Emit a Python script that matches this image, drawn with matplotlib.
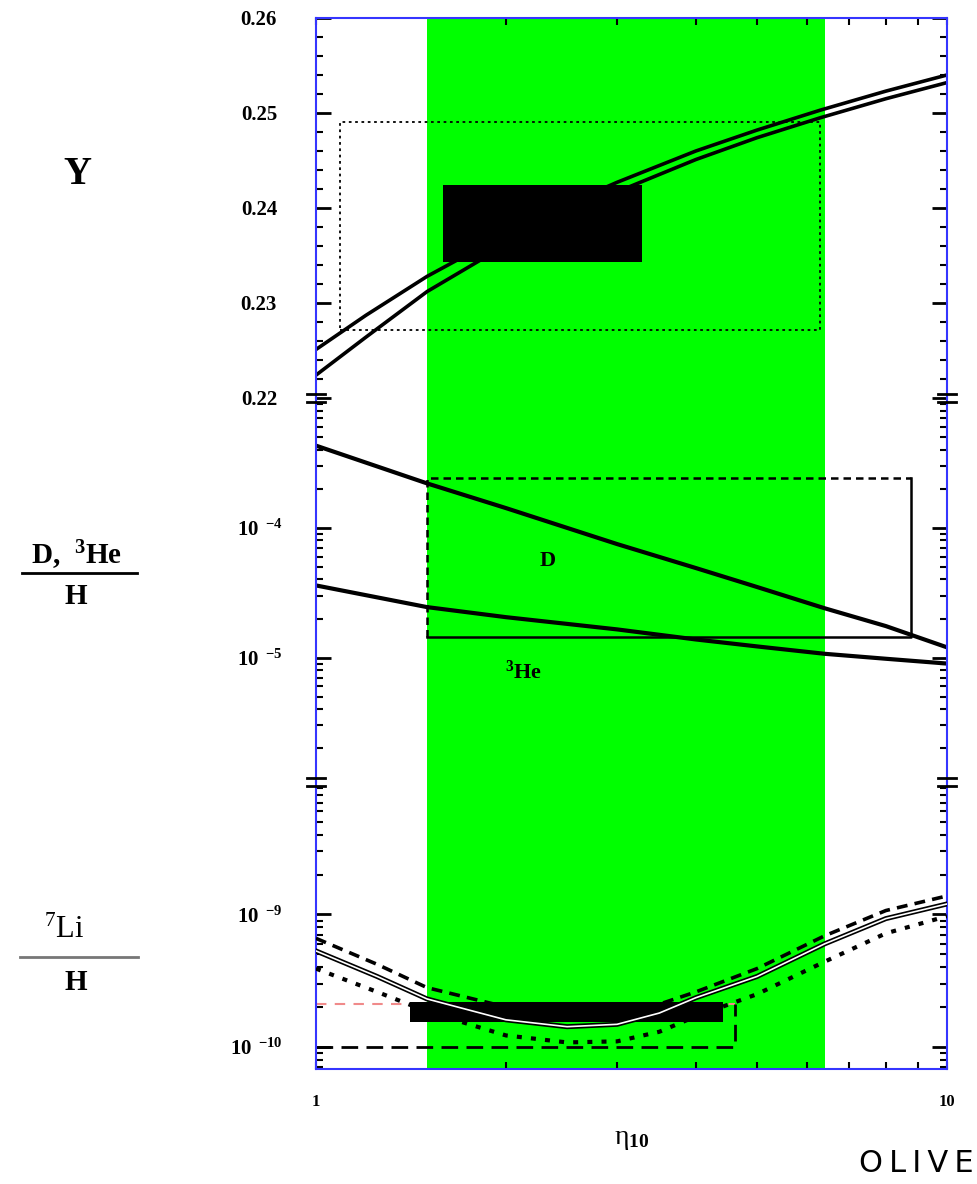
import matplotlib
matplotlib.use('Agg')
import matplotlib.pyplot as plt
from matplotlib.ticker import MultipleLocator, LogLocator, NullFormatter, FixedLocator
from matplotlib.lines import Line2D

plt.rcParams['font.family'] = ['Liberation Serif', 'DejaVu Serif']
plt.rcParams['mathtext.fontset'] = 'custom'
plt.rcParams['mathtext.rm'] = 'Liberation Serif'
plt.rcParams['mathtext.bf'] = 'Liberation Serif:bold'
plt.rcParams['mathtext.it'] = 'Liberation Serif:italic'

# allowed eta range (green band)
band = [1.5, 6.4]

# helium mass fraction Y
eta_y = [1, 1.2, 1.5, 2, 2.5, 3, 4, 5, 6.3, 8, 10]
Y_hi = [0.2251, 0.2287, 0.2328, 0.2373, 0.2404, 0.2427, 0.2460, 0.2482, 0.2503, 0.2523, 0.2540]
Y_lo = [0.2224, 0.2264, 0.2312, 0.2361, 0.2393, 0.2417, 0.2451, 0.2474, 0.2495, 0.2515, 0.2532]
y_box = [1.09, 6.3, 0.2272, 0.2490]      # x0, x1, y0, y1 (dotted)
y_fill = [1.59, 3.29, 0.2343, 0.2424]    # black block

# D/H and 3He/H
eta_d = [1, 1.5, 2, 3, 4, 5, 6.4, 8, 10]
D_H = [4.3e-4, 2.2e-4, 1.42e-4, 7.5e-5, 4.9e-5, 3.5e-5, 2.4e-5, 1.75e-5, 1.2e-5]
He3_H = [3.6e-5, 2.45e-5, 2.05e-5, 1.65e-5, 1.38e-5, 1.22e-5, 1.07e-5, 9.8e-6, 9.0e-6]
d_box = [1.5, 8.77, 1.43e-5, 2.4e-4]

# 7Li/H
eta_li = [1, 1.25, 1.5, 2, 2.5, 3, 3.5, 4, 5, 6.4, 8, 10]
Li_mid = [5.3e-10, 3.4e-10, 2.3e-10, 1.6e-10, 1.42e-10, 1.48e-10, 1.8e-10, 2.35e-10, 3.4e-10, 6.0e-10, 9.3e-10, 1.2e-9]
Li_hi = [6.6e-10, 4.2e-10, 2.8e-10, 2.0e-10, 1.8e-10, 1.85e-10, 2.1e-10, 2.6e-10, 3.9e-10, 6.9e-10, 1.07e-9, 1.38e-9]
Li_lo = [3.9e-10, 2.6e-10, 1.85e-10, 1.22e-10, 1.08e-10, 1.1e-10, 1.3e-10, 1.7e-10, 2.5e-10, 4.4e-10, 7.2e-10, 9.7e-10]
li_box = [1.0, 4.61, 1.0e-10, 2.09e-10]
li_fill = [1.41, 4.42, 1.55e-10, 2.17e-10]

spine_col = '#3535ff'
lab_font = dict(fontsize=15, fontweight='bold')

fig = plt.figure(figsize=(9.77, 11.84), dpi=100)
L, W = 0.3234, 0.6459
axY = fig.add_axes([L, 0.6639, W, 0.3209])
axD = fig.add_axes([L, 0.3395, W, 0.3243])
axL = fig.add_axes([L, 0.0971, W, 0.2424])

for ax in (axY, axD, axL):
    ax.set_xscale('log')
    ax.set_xlim(1, 10)
    ax.axvspan(band[0], band[1], color='#00ff00', lw=0, zorder=0)
    ax.set_facecolor('none')
    for s in ax.spines.values():
        s.set_color(spine_col)
        s.set_linewidth(1.5)
    ax.tick_params(axis='both', which='both', direction='in', colors='black',
                   left=True, right=True, top=False, bottom=False, labelbottom=False)
    ax.tick_params(axis='y', which='major', length=11, width=2)
    ax.tick_params(axis='y', which='minor', length=5, width=1.5)
    ax.tick_params(axis='x', which='both', length=5, width=1.5)
    ax.xaxis.set_minor_formatter(NullFormatter())

axY.spines['bottom'].set_visible(False)
axD.spines['top'].set_visible(False)
axD.spines['bottom'].set_visible(False)
axL.spines['top'].set_visible(False)
axY.tick_params(axis='x', which='both', top=True)
axL.tick_params(axis='x', which='both', bottom=True, labelbottom=True, pad=18)

# ---- Y panel
axY.set_ylim(0.22, 0.26)
axY.yaxis.set_major_locator(FixedLocator([0.22, 0.23, 0.24, 0.25, 0.26]))
axY.yaxis.set_minor_locator(MultipleLocator(0.002))
axY.set_yticklabels(['0.22', '0.23', '0.24', '0.25', '0.26'], **lab_font)
axY.tick_params(axis='y', pad=28)
axY.plot(eta_y, Y_hi, color='black', lw=2.6)
axY.plot(eta_y, Y_lo, color='black', lw=2.6)
axY.fill_between([y_fill[0], y_fill[1]], y_fill[2], y_fill[3], color='black', lw=0, zorder=3)
axY.plot([y_box[0], y_box[1], y_box[1], y_box[0], y_box[0]],
         [y_box[2], y_box[2], y_box[3], y_box[3], y_box[2]],
         color='black', lw=1.3, ls=(0, (1.5, 2)))

# ---- D, 3He panel
axD.set_yscale('log')
axD.set_ylim(1.1e-6, 1e-3)
axD.yaxis.set_major_locator(FixedLocator([1e-5, 1e-4]))
axD.yaxis.set_minor_locator(LogLocator(base=10, subs=range(2, 10)))
axD.yaxis.set_minor_formatter(NullFormatter())
axD.set_yticklabels([r'$\mathbf{10}^{\ \ \mathbf{-5}}$', r'$\mathbf{10}^{\ \ \mathbf{-4}}$'], fontsize=15)
axD.tick_params(axis='y', pad=24)
axD.plot(eta_d, D_H, color='black', lw=3)
axD.plot(eta_d, He3_H, color='black', lw=3)
axD.plot([d_box[0], d_box[0], d_box[1]], [d_box[2], d_box[3], d_box[3]],
         color='black', lw=1.8, ls=(0, (3, 2)))
axD.plot([d_box[0], d_box[1], d_box[1]], [d_box[2], d_box[2], d_box[3]],
         color='black', lw=1.8)
axD.text(2.33, 5.6e-5, 'D', fontsize=16, fontweight='bold', ha='center', va='center')
axD.text(2.13, 7.7e-6, r'$^{\mathbf{3}}$He', fontsize=16, fontweight='bold', ha='center', va='center')

# ---- 7Li panel
axL.set_yscale('log')
axL.set_ylim(6.8e-11, 1e-8)
axL.yaxis.set_major_locator(FixedLocator([1e-10, 1e-9]))
axL.yaxis.set_minor_locator(LogLocator(base=10, subs=range(2, 10)))
axL.yaxis.set_minor_formatter(NullFormatter())
axL.set_yticklabels([r'$\mathbf{10}^{\ \ \mathbf{-10}}$', r'$\mathbf{10}^{\ \ \mathbf{-9}}$'], fontsize=15)
axL.tick_params(axis='y', pad=24)
axL.set_xticks([1, 10])
axL.set_xticklabels(['1', '10'], fontsize=12, fontweight='bold')
axL.plot([li_box[0], li_box[1]], [li_box[3], li_box[3]], color='#f08a8a', lw=1.5, ls=(0, (5, 4)))
axL.plot([li_box[0], li_box[1], li_box[1]], [li_box[2], li_box[2], li_box[3]],
         color='black', lw=2, ls=(0, (6, 3)))
axL.fill_between([li_fill[0], li_fill[1]], li_fill[2], li_fill[3], color='black', lw=0, zorder=3)
axL.plot(eta_li, Li_hi, color='black', lw=2.6, ls=(0, (3, 2)), zorder=4)
axL.plot(eta_li, Li_lo, color='black', lw=3, ls=(0, (1.2, 2.2)), zorder=4)
axL.plot(eta_li, Li_mid, color='black', lw=3.6, zorder=4)
axL.plot(eta_li, Li_mid, color='white', lw=1.2, zorder=5)

# axis break marks between panels
for yb in (0.6639, 0.3395):
    for xb in (L, L + W):
        for dy in (-0.0035, 0.0035):
            fig.add_artist(Line2D([xb - 0.009, xb + 0.009], [yb + dy, yb + dy],
                                  transform=fig.transFigure, color='black', lw=2))

# left-hand labels
fig.text(0.0788, 0.8522, 'Y', fontsize=28, fontweight='bold', ha='center', va='center')
fig.text(0.0778, 0.5313, r'D,  $^{\mathbf{3}}$He', fontsize=21, fontweight='bold', ha='center', va='center')
fig.add_artist(Line2D([0.0225, 0.1402], [0.5160, 0.5160], transform=fig.transFigure, color='black', lw=2))
fig.text(0.0778, 0.4958, 'H', fontsize=21, fontweight='bold', ha='center', va='center')
fig.text(0.0660, 0.2145, r'$^{7}$Li', fontsize=22, ha='center', va='center')
fig.add_artist(Line2D([0.0205, 0.1412], [0.1917, 0.1917], transform=fig.transFigure, color='#777777', lw=2))
fig.text(0.0778, 0.1698, 'H', fontsize=21, fontweight='bold', ha='center', va='center')

fig.text(0.6469, 0.0372, r'η$_{\mathbf{10}}$', fontsize=20, ha='center', va='center')
fig.text(0.9376, 0.0177, 'O\u2009L\u2009I\u2009V\u2009E', fontsize=22, family='DejaVu Sans',
         ha='center', va='center')

plt.savefig('out.png', dpi=100)
